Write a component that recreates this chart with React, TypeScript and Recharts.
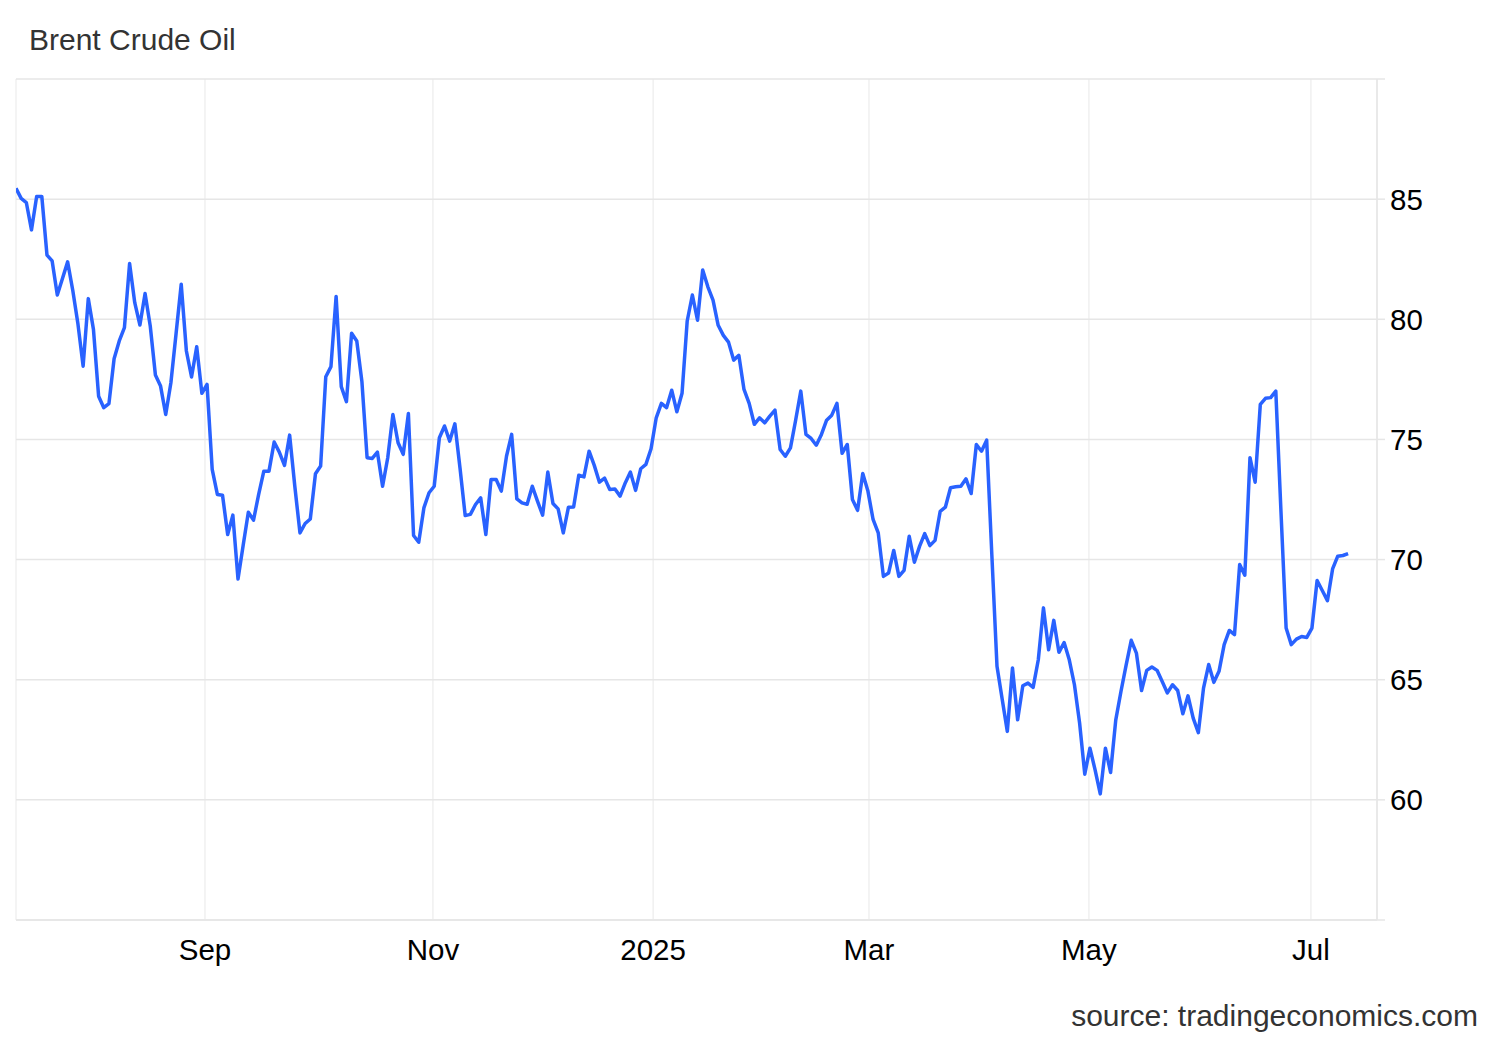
import React from 'react';
import { LineChart, Line, XAxis, YAxis, CartesianGrid } from 'recharts';

// Brent crude daily closes (trading-day index = array position)
const brent: number[] = [
  85.45, 85.03, 84.86, 83.72, 85.11, 85.11, 82.67, 82.43, 81.01, 81.7,
  82.39, 81.2, 79.8, 78.05, 80.86, 79.58, 76.8, 76.32, 76.49, 78.36,
  79.1, 79.65, 82.32, 80.69, 79.76, 81.07, 79.72, 77.68, 77.22, 76.04,
  77.36, 79.4, 81.46, 78.68, 77.6, 78.86, 76.92, 77.29, 73.75, 72.71,
  72.68, 71.04, 71.85, 69.19, 70.6, 71.97, 71.64, 72.71, 73.68, 73.68,
  74.89, 74.47, 73.92, 75.18, 73.05, 71.11, 71.5, 71.69, 73.57, 73.89,
  77.61, 78.03, 80.95, 77.2, 76.57, 79.42, 79.1, 77.4, 74.24, 74.21,
  74.47, 73.05, 74.24, 76.04, 74.86, 74.38, 76.08, 71.0, 70.72, 72.15,
  72.78, 73.05, 75.07, 75.56, 74.93, 75.65, 73.8, 71.83, 71.88, 72.29,
  72.57, 71.04, 73.33, 73.33, 72.85, 74.3, 75.21, 72.53, 72.36, 72.3,
  73.05, 72.43, 71.85, 73.64, 72.33, 72.11, 71.11, 72.18, 72.19, 73.51,
  73.44, 74.51, 73.92, 73.22, 73.39, 72.92, 72.94, 72.64, 73.19, 73.64,
  72.88, 73.78, 73.96, 74.61, 75.9, 76.5, 76.32, 77.05, 76.15, 76.92,
  79.93, 81.01, 79.96, 82.05, 81.35, 80.8, 79.75, 79.33, 79.05, 78.3,
  78.5, 77.08, 76.5, 75.63, 75.9, 75.69, 75.97, 76.22, 74.58, 74.3,
  74.65, 75.8, 77.01, 75.21, 75.04, 74.76, 75.21, 75.8, 76.01, 76.5,
  74.42, 74.79, 72.5, 72.05, 73.58, 72.85, 71.67, 71.11, 69.3, 69.44,
  70.38, 69.3, 69.55, 70.97, 69.89, 70.55, 71.08, 70.58, 70.8, 72.01,
  72.18, 72.99, 73.03, 73.05, 73.36, 72.75, 74.79, 74.51, 74.97, 70.2,
  65.56, 64.2, 62.85, 65.49, 63.33, 64.75, 64.86, 64.68, 65.83, 67.99,
  66.25, 67.47, 66.14, 66.55, 65.83, 64.79, 63.2, 61.07, 62.15, 61.25,
  60.25, 62.15, 61.14, 63.32, 64.5, 65.6, 66.64, 66.11, 64.55, 65.39,
  65.53, 65.39, 64.93, 64.45, 64.79, 64.55, 63.58, 64.33, 63.4, 62.8,
  64.65, 65.63, 64.89, 65.35, 66.46, 67.05, 66.88, 69.79, 69.35, 74.24,
  73.22, 76.46, 76.71, 76.74, 77.01, 72.0, 67.15, 66.46, 66.69, 66.8,
  66.76, 67.15, 69.13, 68.71, 68.29, 69.61, 70.14, 70.17, 70.25,
];

const xTickLabels: string[] = ['Sep', 'Nov', '2025', 'Mar', 'May', 'Jul'];
const xTickIndex: number[] = [36.6, 80.75, 123.4, 165.2, 207.8, 250.8];
const xDomainMax = 263.6;

const yTicks: number[] = [55, 60, 65, 70, 75, 80, 85, 90];
const yLabelled: number[] = [60, 65, 70, 75, 80, 85];

const data = brent.map((v, i) => ({ i, v }));

const FONT = '"Liberation Sans", Arial, Helvetica, sans-serif';

export default function App() {
  return (
    <div style={{ position: 'absolute', left: 0, top: 0, width: 1500, height: 1040, background: '#fff' }}>
      <LineChart
        width={1500}
        height={1040}
        data={data}
        margin={{ top: 79, right: 43, bottom: 80, left: 16 }}
      >
        <CartesianGrid horizontal={false} vertical={true} stroke="#f0f0f0" strokeWidth={1.5} />
        <CartesianGrid horizontal={true} vertical={false} stroke="#e6e6e6" strokeWidth={1.5} />
        <XAxis
          dataKey="i"
          type="number"
          domain={[0, xDomainMax]}
          ticks={xTickIndex}
          tickFormatter={(_v: number, idx: number) => xTickLabels[idx]}
          axisLine={{ stroke: '#e6e6e6', strokeWidth: 1.5 }}
          tickLine={false}
          tickSize={0}
          tickMargin={19}
          height={40}
          interval={0}
          allowDataOverflow
          tick={{ fill: '#000', fontSize: 29.5, fontFamily: FONT }}
        />
        <YAxis
          orientation="right"
          type="number"
          domain={[55, 90]}
          ticks={yTicks}
          interval={0}
          tickFormatter={(v: number) => (yLabelled.includes(v) ? String(v) : '')}
          axisLine={{ stroke: '#e6e6e6', strokeWidth: 1.5 }}
          tickLine={{ stroke: '#e6e6e6', strokeWidth: 1.5 }}
          tickSize={8}
          tickMargin={5}
          width={80}
          allowDataOverflow
          tick={{ fill: '#000', fontSize: 29.5, fontFamily: FONT }}
        />
        <Line
          type="linear"
          dataKey="v"
          stroke="#2962ff"
          strokeWidth={3.5}
          dot={false}
          activeDot={false}
          isAnimationActive={false}
          strokeLinejoin="round"
        />
      </LineChart>
      <svg
        width={1500}
        height={1040}
        style={{ position: 'absolute', left: 0, top: 0, pointerEvents: 'none' }}
      >
        <text x={29} y={50} fill="#333" fontSize={30} fontFamily={FONT}>
          Brent Crude Oil
        </text>
        <text x={1478} y={1026} fill="#333" fontSize={30} fontFamily={FONT} textAnchor="end">
          source: tradingeconomics.com
        </text>
      </svg>
    </div>
  );
}
